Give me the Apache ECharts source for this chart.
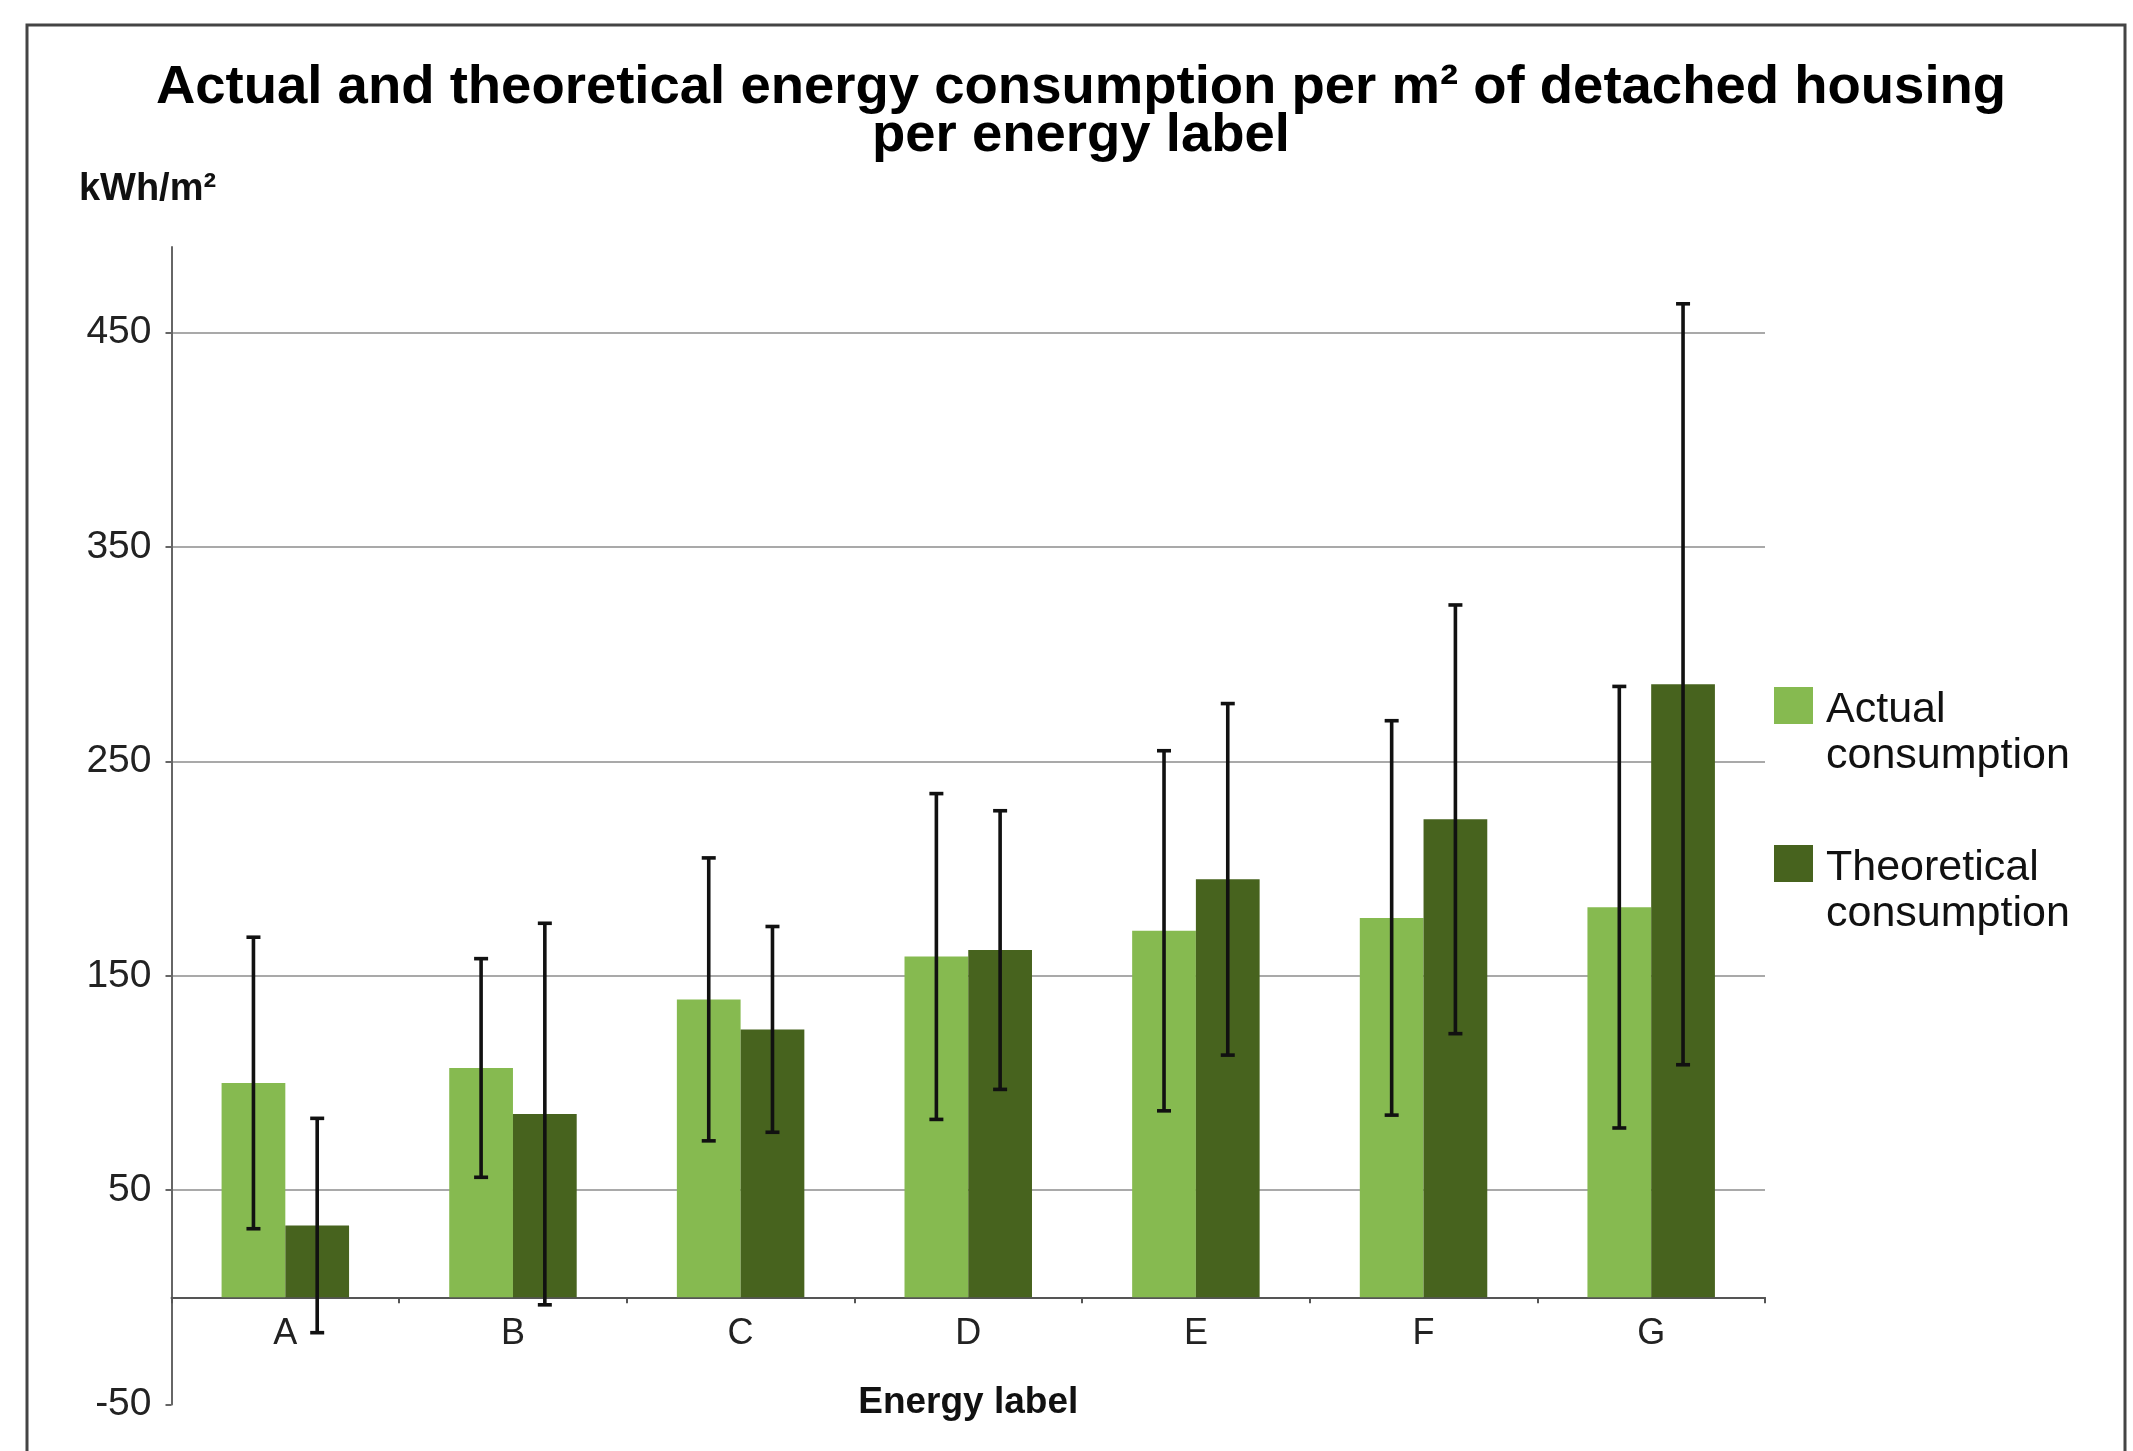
<!DOCTYPE html>
<html>
<head>
<meta charset="utf-8">
<script src="https://cdn.jsdelivr.net/npm/echarts@6/dist/echarts.min.js"></script>
<style>
html,body{margin:0;padding:0;background:#fff;}
#chart{width:2133px;height:1451px;}
</style>
</head>
<body>
<div id="chart"></div>
<script>
const categories = ['A', 'B', 'C', 'D', 'E', 'F', 'G'];
const seriesNames = ['Actual consumption', 'Theoretical consumption'];
const actual = [100, 107, 139, 159, 171, 177, 182];
const actualErr = [68, 51, 66, 76, 84, 92, 103];
const theoretical = [33.5, 85.5, 125, 162, 195, 223, 286];
const theoreticalErr = [50, 89, 48, 65, 82, 100, 177.5];
const yTicks = [-50, 50, 150, 250, 350, 450];
const yMin = -50, yMax = 490, yInterval = 100;

const actualErrData = actual.map((v, i) => [i, v - actualErr[i], v + actualErr[i]]);
const theoreticalErrData = theoretical.map((v, i) => [i, v - theoreticalErr[i], v + theoreticalErr[i]]);

const FONT = '"Liberation Sans", Arial, sans-serif';
const BAR_FRACTION = 0.28;

const W = 2133, H = 1451;
const GRID = { left: 171.5, right: 368, top: 247, bottom: 46.5 };
const gridHeight = H - GRID.top - GRID.bottom;
// distance from the grid bottom (yMin) to the zero line, so the category axis sits on zero
const zeroOffset = -(0 - yMin) * gridHeight / (yMax - yMin);

function errRender(side) {
  return function (params, api) {
    const i = api.value(0);
    const lo = api.coord([i, api.value(1)]);
    const hi = api.coord([i, api.value(2)]);
    const band = api.size([1, 0])[0];
    const x = lo[0] + side * band * BAR_FRACTION / 2;
    const cap = 7;
    const st = { stroke: '#111', lineWidth: 3.6 };
    return {
      type: 'group',
      children: [
        { type: 'line', shape: { x1: x, y1: lo[1], x2: x, y2: hi[1] }, style: st },
        { type: 'line', shape: { x1: x - cap, y1: hi[1], x2: x + cap, y2: hi[1] }, style: st },
        { type: 'line', shape: { x1: x - cap, y1: lo[1], x2: x + cap, y2: lo[1] }, style: st }
      ]
    };
  };
}

const chart = echarts.init(document.getElementById('chart'), null, { renderer: 'canvas' });
chart.setOption({
  backgroundColor: '#ffffff',
  animation: false,
  graphic: [{
    type: 'rect',
    shape: { x: 27, y: 25, width: 2098, height: 1500 },
    style: { fill: 'none', stroke: '#444', lineWidth: 3 },
    silent: true
  }],
  title: {
    text: 'Actual and theoretical energy consumption per m\u00B2 of detached housing\nper energy label',
    left: 1081,
    top: 64,
    textAlign: 'center',
    padding: 0,
    textStyle: { fontFamily: FONT, fontWeight: 'bold', fontSize: 54.5, lineHeight: 48, color: '#000' }
  },
  legend: {
    data: seriesNames,
    orient: 'vertical',
    left: 1774,
    top: 687,
    padding: 0,
    itemWidth: 39,
    itemHeight: 92,
    itemGap: 66,
    icon: 'path://M0,0h39v37h-39z M0,91.9h0.1v0.1h-0.1z',
    formatter: name => name.replace(' ', '\n'),
    textStyle: { fontFamily: FONT, fontSize: 43, lineHeight: 46, color: '#111', padding: [0, 0, 0, 8] }
  },
  grid: { left: GRID.left, right: GRID.right, top: GRID.top, bottom: GRID.bottom, outerBoundsMode: 'none', containLabel: false },
  xAxis: {
    type: 'category',
    data: categories,
    position: 'bottom',
    offset: zeroOffset,
    name: 'Energy label',
    nameLocation: 'middle',
    nameGap: 87,
    nameTextStyle: { fontFamily: FONT, fontWeight: 'bold', fontSize: 37, color: '#111' },
    axisLine: { onZero: false, lineStyle: { color: '#555', width: 2 } },
    axisTick: { show: true, length: 6, lineStyle: { color: '#555', width: 2 } },
    axisLabel: { fontFamily: FONT, fontSize: 36, color: '#222', margin: 19 },
    splitLine: { show: false }
  },
  yAxis: {
    type: 'value',
    min: yMin,
    max: yMax,
    interval: yInterval,
    name: 'kWh/m\u00B2',
    nameLocation: 'end',
    nameGap: 38,
    nameTextStyle: { fontFamily: FONT, fontWeight: 'bold', fontSize: 38, color: '#111', align: 'center', padding: [0, 48, 0, 0] },
    axisLine: { show: true, lineStyle: { color: '#666', width: 2 } },
    axisTick: { show: true, length: 6, customValues: yTicks, lineStyle: { color: '#666', width: 2 } },
    axisLabel: { fontFamily: FONT, fontSize: 39, color: '#222', margin: 20, customValues: yTicks },
    splitLine: { show: true, showMinLine: false, lineStyle: { color: '#8c8c8c', width: 1.6 } }
  },
  series: [
    {
      name: seriesNames[0],
      type: 'bar',
      data: actual,
      barGap: '0%',
      barCategoryGap: '44%',
      itemStyle: { color: '#86BA50' },
      z: 2
    },
    {
      name: seriesNames[1],
      type: 'bar',
      data: theoretical,
      barGap: '0%',
      barCategoryGap: '44%',
      itemStyle: { color: '#47631E' },
      z: 2
    },
    {
      name: 'actual-error',
      type: 'custom',
      data: actualErrData,
      encode: { x: 0, y: [1, 2] },
      renderItem: errRender(-1),
      z: 5,
      silent: true
    },
    {
      name: 'theoretical-error',
      type: 'custom',
      data: theoreticalErrData,
      encode: { x: 0, y: [1, 2] },
      renderItem: errRender(1),
      z: 5,
      silent: true
    }
  ]
});
</script>
</body>
</html>
